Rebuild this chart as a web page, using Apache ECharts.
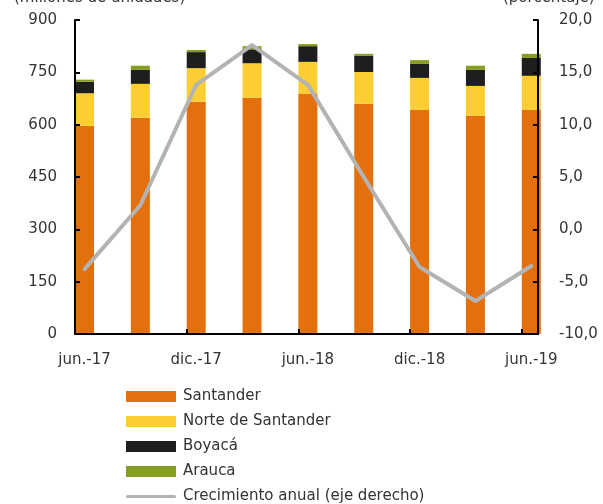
<!DOCTYPE html>
<html>
<head>
<meta charset="utf-8">
<script src="https://cdn.jsdelivr.net/npm/echarts@6/dist/echarts.min.js"></script>
<style>
html,body{margin:0;padding:0;background:#fff;}
#c{width:603px;height:504px;}
</style>
</head>
<body>
<div id="c"></div>
<script>
const categories = ['jun.-17','sep.-17','dic.-17','mar.-18','jun.-18','sep.-18','dic.-18','mar.-19','jun.-19'];
const santander = [597, 620, 666, 677, 689, 660, 642, 625, 642];
const norte = [93, 97, 96, 99, 91, 91, 92, 86, 98];
const boyaca = [33, 40, 46, 40, 45, 46, 40, 46, 51];
const arauca = [6, 12, 6, 9, 6, 6, 11, 12, 12];
const crecimiento = [-3.8, 2.3, 13.8, 17.6, 13.8, 5.0, -3.6, -6.85, -3.5];
const labelIdx = [0, 2, 4, 6, 8];

const FONT = 'DejaVu Sans';
const FS = 15;
const TXT = '#333';
const half = 0.17;

const chart = echarts.init(document.getElementById('c'), null, {renderer: 'canvas'});
const barSeries = (name, arr, color) => ({
  name, type: 'bar', stack: 'total', data: arr, barWidth: 19,
  xAxisIndex: 1, yAxisIndex: 2,
  itemStyle: {color}, emphasis: {disabled: true}
});
const axisLineStyle = {color: '#000', width: 2};
chart.setOption({
  animation: false,
  textStyle: {fontFamily: FONT},
  grid: [
    {left: 75, right: 65, top: 20, bottom: 170},
    {left: 56.6, right: 43.8, top: 20, bottom: 170}
  ],
  graphic: [
    {type: 'text', left: 14, top: -9, style: {text: '(millones de unidades)', font: FS + 'px "' + FONT + '"', fill: TXT}},
    {type: 'text', left: 503, top: -9, style: {text: '(porcentaje)', font: FS + 'px "' + FONT + '"', fill: TXT}}
  ],
  legend: {
    orient: 'vertical', left: 126, top: 389, padding: 0, itemWidth: 50, itemHeight: 11, itemGap: 10,
    textStyle: {fontFamily: FONT, fontSize: FS, color: TXT, padding: [0, 0, 0, 2]},
    data: [
      {name: 'Santander', icon: 'rect'},
      {name: 'Norte de Santander', icon: 'rect'},
      {name: 'Boyacá', icon: 'rect'},
      {name: 'Arauca', icon: 'rect'},
      {name: 'Crecimiento anual (eje derecho)', icon: 'path://M0,0M50,11M1.5,4h47a1.5,1.5 0 0 1 0,3h-47a1.5,1.5 0 0 1 0,-3z'}
    ],
    selectedMode: false
  },
  xAxis: [
    {type: 'value', gridIndex: 0, min: -half, max: 8 + 0.12, z: 5,
      axisLine: {show: true, onZero: false, lineStyle: axisLineStyle},
      axisTick: {show: true, inside: true, length: 5, lineStyle: axisLineStyle,
        customValues: labelIdx.map(i => i - half)},
      axisLabel: {customValues: labelIdx, formatter: v => categories[Math.round(v)],
        fontFamily: FONT, fontSize: FS, color: TXT, margin: 19},
      splitLine: {show: false}},
    {type: 'category', gridIndex: 1, data: categories, show: false, boundaryGap: true}
  ],
  yAxis: [
    {type: 'value', gridIndex: 0, min: 0, max: 900, interval: 150, position: 'left', z: 5,
      axisLine: {show: true, onZero: false, lineStyle: axisLineStyle},
      axisTick: {show: true, inside: true, length: 5, lineStyle: axisLineStyle},
      axisLabel: {fontFamily: FONT, fontSize: FS, color: TXT, margin: 18},
      splitLine: {show: false}},
    {type: 'value', gridIndex: 0, min: -10, max: 20, interval: 5, position: 'right', z: 5,
      axisLine: {show: true, onZero: false, lineStyle: axisLineStyle},
      axisTick: {show: true, inside: true, length: 5, lineStyle: axisLineStyle},
      axisLabel: {fontFamily: FONT, fontSize: FS, color: TXT, margin: 21,
        formatter: v => v.toFixed(1).replace('.', ',')},
      splitLine: {show: false}},
    {type: 'value', gridIndex: 1, min: 0, max: 900, show: false, splitLine: {show: false}}
  ],
  series: [
    barSeries('Santander', santander, '#E3700D'),
    barSeries('Norte de Santander', norte, '#FDCE34'),
    barSeries('Boyacá', boyaca, '#1E1E1E'),
    barSeries('Arauca', arauca, '#869E23'),
    {name: 'Crecimiento anual (eje derecho)', type: 'line', xAxisIndex: 0, yAxisIndex: 1,
      data: crecimiento.map((v, i) => [i, v]),
      symbol: 'none', lineStyle: {color: '#B3B3B3', width: 4, cap: 'round', join: 'round'},
      itemStyle: {color: '#B3B3B3'}, emphasis: {disabled: true}, z: 6}
  ]
});
</script>
</body>
</html>
